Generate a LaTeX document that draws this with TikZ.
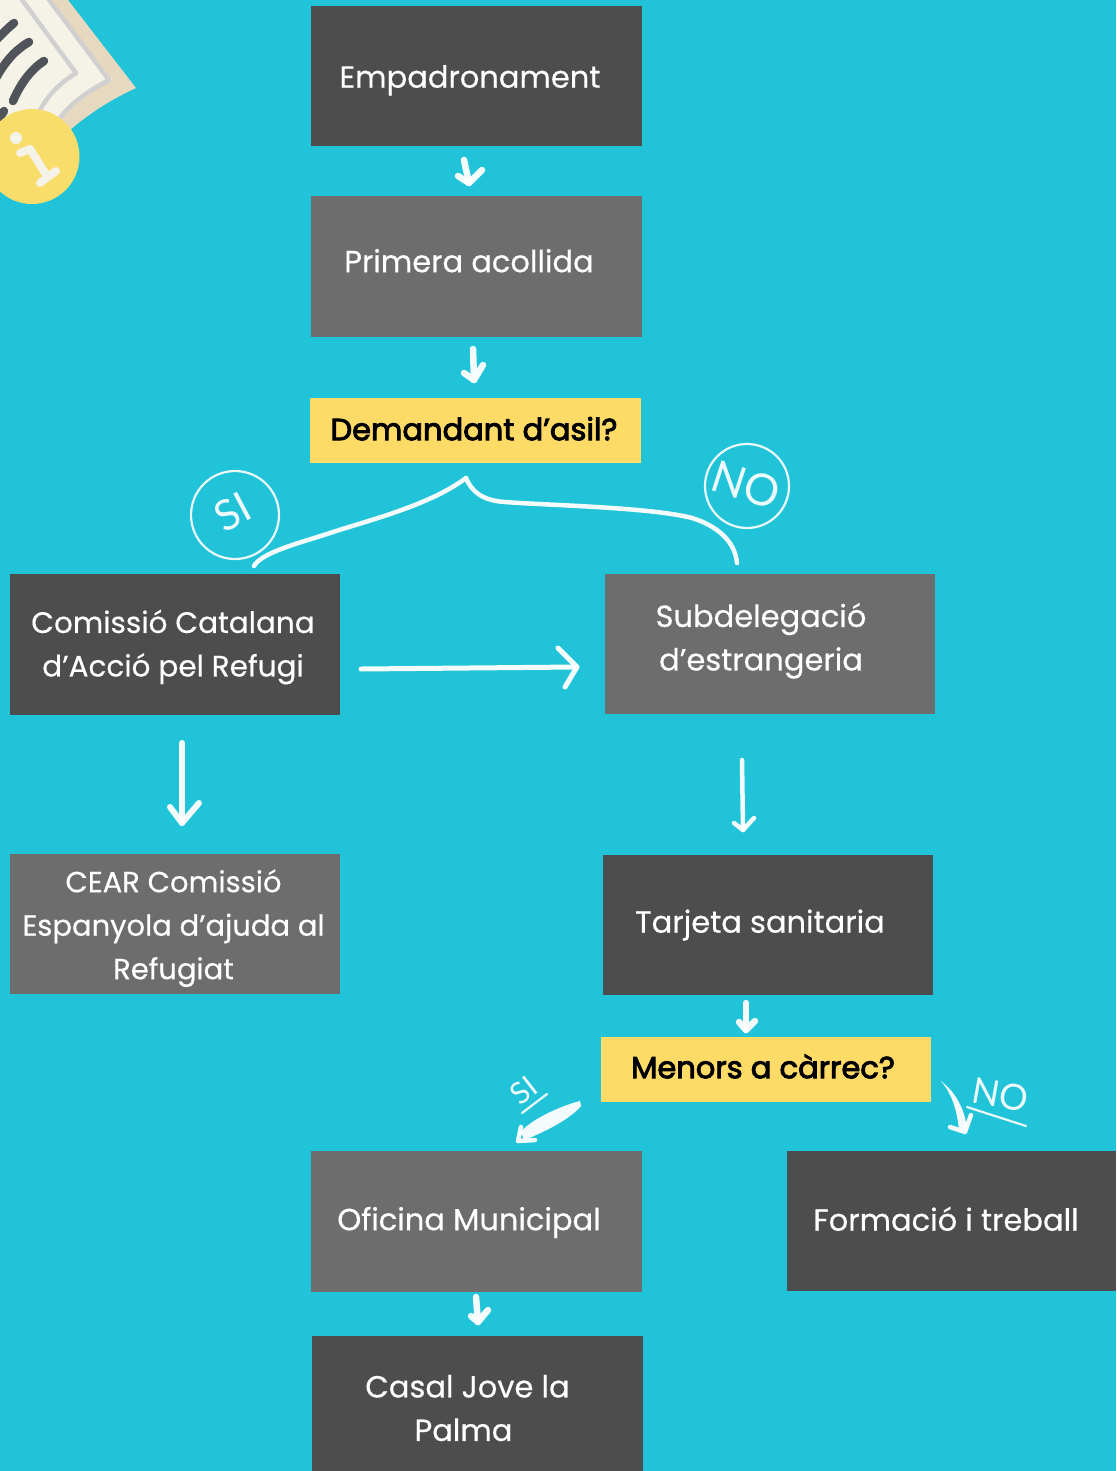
\documentclass[tikz,border=0pt]{standalone}
\usepackage{fontspec}
\setmainfont{Poppins}[FakeBold=0.4]
\newfontfamily\handfont{Lato}
\newfontfamily\yelfont{Poppins}[FakeBold=3]
\definecolor{bgc}{HTML}{20C3D8}
\definecolor{darkb}{HTML}{4D4D4D}
\definecolor{midb}{HTML}{6D6D6D}
\definecolor{yel}{HTML}{FEDB66}
\definecolor{cream}{HTML}{F5F2E8}
\definecolor{beige}{HTML}{E6D9C0}
\definecolor{stripe}{HTML}{D0D0D0}
\definecolor{inkc}{HTML}{50545A}
\definecolor{iconyel}{HTML}{F9DD6B}
\newcommand{\shifted}[3]{\raisebox{#2pt}[\height][\depth]{\hspace*{#1pt}{\renewcommand\arraystretch{1}\setlength\tabcolsep{0pt}\begin{tabular}{c}#3\end{tabular}}}}
\tikzset{
 x=1pt,y=-1pt,
 boxb/.style={rectangle,inner sep=0pt,outer sep=0pt,font=\fontsize{30.5}{43.5}\selectfont},
 darkbox/.style={boxb,fill=darkb,text=white},
 midbox/.style={boxb,fill=midb,text=white},
 yelbox/.style={boxb,fill=yel,text=black,font=\yelfont\fontsize{30.5}{43.5}\selectfont},
 chalk/.style={draw=white,line width=4pt,line cap=round,line join=round,opacity=.95},
 thin chalk/.style={draw=white,line width=2.2pt,line cap=round,line join=round,opacity=.9},
 hand/.style={text=white,inner sep=0pt,opacity=.92},
}
\newcommand{\bx}[9]{\node[#6,minimum width={(#4-#2)*1pt},minimum height={(#5-#3)*1pt}] (#1) at ({(#2+#4)/2},{(#3+#5)/2}) {\shifted{#7}{#8}{#9}};}
\newcommand{\harrow}[5]{\draw[chalk,line width=#5pt] (#1) -- (#2); \draw[chalk,line width=#5pt] (#3) -- (#2) -- (#4);}
\begin{document}
\begin{tikzpicture}
\useasboundingbox (0,0) rectangle (1116,1471);
\fill[bgc] (0,0) rectangle (1116,1471);
% icon
\begin{scope}
\clip (0,0) rectangle (1116,1471);
\fill[beige] (50,0) -- (68,0) -- (136,88) .. controls (110,100) and (90,113) .. (70,130) -- (40,120) -- cycle;
\fill[cream] (0,0) -- (50,0) -- (112,80) .. controls (90,90) and (75,102) .. (60,120) -- (0,130) -- cycle;
\draw[stripe,line width=4.5pt,line join=round] (47,-3) -- (109,80) .. controls (90,90) and (72,102) .. (60,118);
\draw[stripe,line width=4.5pt,line join=round] (20,-3) -- (76,73) .. controls (62,82) and (50,92) .. (40,110);
\draw[inkc,line width=8.5pt,line cap=round] (14,23) .. controls (8,28) and (3,33) .. (-4,40);
\draw[inkc,line width=8.5pt,line cap=round] (29,42) .. controls (15,50) and (5,62) .. (-4,78);
\draw[inkc,line width=8.5pt,line cap=round] (44,61) .. controls (30,70) and (20,85) .. (13,101);
\draw[inkc,line width=8.5pt,line cap=round] (4,111) -- (-3,122);
\fill[iconyel] (32,156.5) circle (47.5);
\fill[cream] (16,138) circle (6);
\draw[cream,line width=8pt,line cap=round,line join=round] (20,153) -- (30,149) -- (47,176);
\draw[cream,line width=8pt,line cap=round] (40,183) -- (56,171);
\end{scope}
% boxes
\bx{emp}{311}{6}{642}{146}{darkbox}{-13}{-3}{Empadronament}
\bx{pri}{311}{196}{642}{337}{midbox}{-15}{3}{Primera acollida}
\bx{dem}{310}{398}{641}{463}{yelbox}{-3}{-1}{Demandant d’asil?}
\bx{com}{10}{574}{340}{715}{darkbox}{-4}{-1.5}{\fontsize{29.5}{43.5}\selectfont Comissió Catalana\\\fontsize{29.5}{43.5}\selectfont d’Acció pel Refugi}
\bx{sub}{605}{574}{935}{714}{midbox}{-18}{4}{Subdelegació\\d’estrangeria}
\bx{cea}{10}{854}{340}{994}{midbox}{-3}{-3}{\fontsize{29}{43}\selectfont CEAR Comissió\\\fontsize{29}{43}\selectfont Espanyola d’ajuda al\\\fontsize{29}{43}\selectfont Refugiat}
\bx{tar}{603}{855}{933}{995}{darkbox}{-16}{1}{Tarjeta sanitaria}
\bx{men}{601}{1037}{931}{1102}{yelbox}{-6}{0}{Menors a càrrec?}
\bx{ofi}{311}{1151}{642}{1292}{midbox}{-15}{0}{Oficina Municipal}
\bx{for}{787}{1151}{1116}{1291}{darkbox}{-11}{-1}{Formació i treball}
\begin{scope}
\clip (0,0) rectangle (1116,1471);
\bx{cas}{312}{1336}{643}{1480}{darkbox}{-28}{-2.5}{\hspace*{8pt}Casal Jove la\\Palma}
\end{scope}
% connectors
\harrow{464,160}{469,183}{458,176}{482,170}{6.5}
\harrow{473,349}{474,380}{464,373}{483,365}{6.5}
\harrow{361,669}{577,667}{558,648}{565,687}{5}
\harrow{182,743}{182,823}{170,807}{199,803}{6}
\harrow{742,760}{743,830}{734,823}{754,818}{4.5}
\harrow{746,1003}{746,1030}{739,1022}{755,1021}{6.5}
\harrow{476,1297}{478,1322}{471,1316}{488,1310}{6.5}
% brace
\draw[chalk,line width=4.5pt] (254,566) .. controls (262,552) and (300,543) .. (333,532) .. controls (370,520) and (430,505) .. (466,478);
\draw[chalk,line width=4.5pt] (466,478) .. controls (474,497) and (490,501) .. (505,502) .. controls (540,505) and (650,507) .. (692,518) .. controls (715,525) and (735,540) .. (737,563);
% SI / NO marks
\draw[thin chalk] (235,515) circle (44);
\node[hand,rotate=28,font=\handfont\fontsize{42}{42}\selectfont] (si) at (233,512) {SI};
\draw[thin chalk] (747,486) circle (42);
\node[hand,rotate=-18,font=\handfont\fontsize{44}{44}\selectfont] (no) at (746,485) {NO};
% lower SI
\node[hand,rotate=38,font=\handfont\fontsize{30}{30}\selectfont] (si2) at (524,1090) {SI};
\draw[thin chalk] (522,1113) -- (547,1094);
\fill[white,opacity=.95] (580,1101) .. controls (560,1106) and (530,1120) .. (521,1132) -- (524,1140) .. controls (550,1130) and (572,1117) .. (581,1106) -- cycle;
\draw[chalk,line width=4.5pt] (521,1127) -- (518,1141) -- (535,1140);
% lower NO
\node[hand,rotate=-10,font=\handfont\fontsize{36}{36}\selectfont] (no2) at (1000,1095) {NO};
\draw[thin chalk] (967,1107) -- (1026,1126);
\fill[white,opacity=.95] (941,1081) .. controls (953,1095) and (957,1112) .. (959,1130) -- (967,1130) .. controls (965,1108) and (955,1092) .. (941,1081) -- cycle;
\draw[chalk,line width=4.5pt] (950,1127) -- (965,1132) -- (971,1115);
\end{tikzpicture}
\end{document}
